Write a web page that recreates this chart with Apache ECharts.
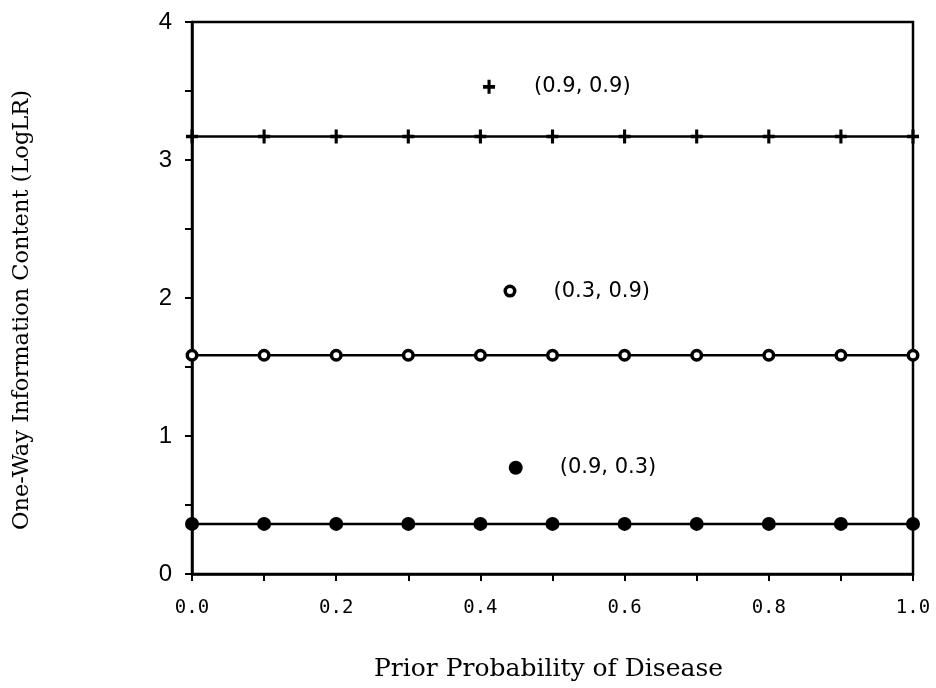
<!DOCTYPE html>
<html><head><meta charset="utf-8">
<script src="https://cdn.jsdelivr.net/npm/echarts@6/dist/echarts.min.js"></script>
<style>html,body{margin:0;padding:0;background:#fff}#c{width:936px;height:688px}</style>
</head><body><div id="c"></div>
<script>
const priors = [0.0,0.1,0.2,0.3,0.4,0.5,0.6,0.7,0.8,0.9,1.0];
const seriesNames = ['(0.9, 0.9)','(0.3, 0.9)','(0.9, 0.3)'];
const valsPlus   = [3.17,3.17,3.17,3.17,3.17,3.17,3.17,3.17,3.17,3.17,3.17];
const valsOpen   = [1.585,1.585,1.585,1.585,1.585,1.585,1.585,1.585,1.585,1.585,1.585];
const valsFilled = [0.363,0.363,0.363,0.363,0.363,0.363,0.363,0.363,0.363,0.363,0.363];
const keyPos = [[0.412,3.53],[0.441,2.05],[0.449,0.77]];
const xTickLabels = ['0.0','0.2','0.4','0.6','0.8','1.0'];
const yTickLabels = ['0','1','2','3','4'];

const plusPath = 'path://M4,0 H6.8 V4 H10.8 V6.8 H6.8 V10.8 H4 V6.8 H0 V4 H4 Z';
const styles = [
  {symbol: plusPath, symbolSize: [12,14], itemStyle:{color:'#000', opacity:1}},
  {symbol: 'circle', symbolSize: 9.5, itemStyle:{color:'#fff', borderColor:'#000', borderWidth:3.5, opacity:1}},
  {symbol: 'circle', symbolSize: 14, itemStyle:{color:'#000', opacity:1}}
];
const allVals = [valsPlus, valsOpen, valsFilled];

const series = [];
allVals.forEach((v,i)=>{
  series.push({
    type:'line', name: seriesNames[i],
    data: priors.map((p,j)=>[p, v[j]]),
    symbol: styles[i].symbol, symbolSize: styles[i].symbolSize,
    showAllSymbol: true, clip: true,
    lineStyle:{color:'#000', width:2.5},
    itemStyle: styles[i].itemStyle,
    z: 3
  });
  series.push({
    type:'scatter', data:[keyPos[i]],
    symbol: styles[i].symbol, symbolSize: styles[i].symbolSize,
    itemStyle: styles[i].itemStyle,
    label:{show:true, position:'right', distance: [39,37,37][i],
      formatter: seriesNames[i], color:'#000', fontSize:21,
      fontFamily:'DejaVu Sans, sans-serif'},
    silent:true
  });
});

const chart = echarts.init(document.getElementById('c'));
chart.setOption({
  animation:false,
  backgroundColor:'#fff',
  grid:{left:192, right:23, top:22, bottom:114, show:true, borderColor:'#000', borderWidth:2.5, backgroundColor:'transparent'},
  xAxis:{
    type:'value', min:0, max:1, interval:0.1,
    name:'Prior Probability of Disease', nameLocation:'middle', nameGap:83,
    nameTextStyle:{fontFamily:'DejaVu Serif, serif', fontSize:25, color:'#000', padding:[0,8,0,0]},
    axisLine:{lineStyle:{color:'#000', width:2.5}},
    axisTick:{show:true, length:7, inside:false, lineStyle:{color:'#000', width:2}},
    axisLabel:{color:'#000', fontSize:19, margin:25, fontFamily:'DejaVu Sans Mono, monospace',
      formatter: v => { const s = v.toFixed(1); return xTickLabels.includes(s) ? s : ''; }},
    splitLine:{show:false}
  },
  yAxis:{
    type:'value', min:0, max:4, interval:0.5,
    name:'One-Way Information Content (LogLR)', nameLocation:'middle', nameGap:158,
    nameTextStyle:{fontFamily:'DejaVu Serif, serif', fontSize:22.5, color:'#000', padding:[0,24,0,0]},
    axisLine:{lineStyle:{color:'#000', width:2.5}},
    axisTick:{show:true, length:7, lineStyle:{color:'#000', width:2}},
    axisLabel:{color:'#000', fontSize:24, margin:20, fontFamily:'Liberation Sans, Arial, sans-serif',
      formatter: v => { const s = String(v); return yTickLabels.includes(s) ? s : ''; }},
    splitLine:{show:false}
  },
  series: series
});
</script></body></html>
